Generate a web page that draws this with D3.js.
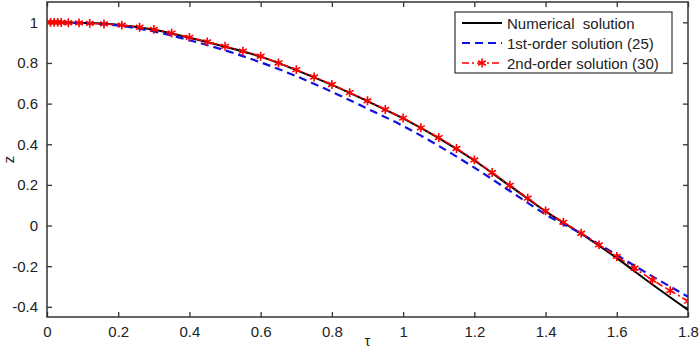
<!DOCTYPE html>
<html>
<head>
<meta charset="utf-8">
<script src="https://cdn.jsdelivr.net/npm/d3@7"></script>
<style>
  body { margin: 0; background: #fff; }
  svg { display: block; font-family: "Liberation Sans", Arial, sans-serif; }
</style>
</head>
<body>
<script>
// Data
const tauCoarse = [0, 0.1, 0.2, 0.3, 0.4, 0.5, 0.6, 0.7, 0.8, 0.9, 1.0, 1.1, 1.2, 1.3, 1.4, 1.5, 1.6, 1.7, 1.8];
const numerical = [1.0, 0.997, 0.988, 0.963, 0.924, 0.88, 0.831, 0.765, 0.692, 0.612, 0.527, 0.43, 0.32, 0.195, 0.07, -0.04, -0.16, -0.29, -0.415];
const firstOrder = [1.0, 0.996, 0.984, 0.955, 0.912, 0.862, 0.803, 0.735, 0.658, 0.575, 0.49, 0.392, 0.285, 0.17, 0.055, -0.04, -0.145, -0.25, -0.35];

const tauFine = [0, 0.01, 0.02, 0.03, 0.04, 0.06, 0.09, 0.12, 0.16, 0.21, 0.26, 0.3, 0.35, 0.4, 0.45, 0.5, 0.55, 0.6, 0.65, 0.7, 0.75, 0.8, 0.85, 0.9, 0.95, 1.0, 1.05, 1.1, 1.15, 1.2, 1.25, 1.3, 1.35, 1.4, 1.45, 1.5, 1.55, 1.6, 1.65, 1.7, 1.75, 1.8];
const secondOrder = [1.0, 1.0, 1.0, 1.0, 0.999, 0.998, 0.997, 0.995, 0.992, 0.986, 0.976, 0.965, 0.947, 0.926, 0.904, 0.882, 0.858, 0.833, 0.8, 0.767, 0.731, 0.694, 0.654, 0.614, 0.571, 0.529, 0.481, 0.433, 0.379, 0.323, 0.261, 0.198, 0.135, 0.072, 0.016, -0.038, -0.095, -0.152, -0.21, -0.268, -0.32, -0.372];

const xTicks = [0, 0.2, 0.4, 0.6, 0.8, 1, 1.2, 1.4, 1.6, 1.8];
const yTicks = [-0.4, -0.2, 0, 0.2, 0.4, 0.6, 0.8, 1];
const legendLabels = ["Numerical  solution", "1st-order solution (25)", "2nd-order solution (30)"];

// Dimensions
const width = 699;
const height = 354;
const marginTop = 2;
const marginRight = 11;
const marginBottom = 37;
const marginLeft = 47;

const x = d3.scaleLinear().domain([0, 1.8]).range([marginLeft, width - marginRight]);
const y = d3.scaleLinear().domain([-0.45, 1.1]).range([height - marginBottom, marginTop]);

const svg = d3.select("body").append("svg")
    .attr("width", width)
    .attr("height", height);

const fmt = d => d === 0 ? "0" : String(+d.toFixed(1));
const tickColor = "#333";

// AXES (ticks inside, on all four sides)
const gx = svg.append("g")
    .attr("transform", `translate(0,${height - marginBottom})`)
    .call(d3.axisBottom(x).tickValues(xTicks).tickFormat(fmt).tickSizeInner(-5).tickSizeOuter(0).tickPadding(9));
const gxTop = svg.append("g")
    .attr("transform", `translate(0,${marginTop})`)
    .call(d3.axisTop(x).tickValues(xTicks).tickFormat("").tickSizeInner(-5).tickSizeOuter(0));
const gy = svg.append("g")
    .attr("transform", `translate(${marginLeft},0)`)
    .call(d3.axisLeft(y).tickValues(yTicks).tickFormat(fmt).tickSizeInner(-5).tickSizeOuter(0).tickPadding(9));
const gyRight = svg.append("g")
    .attr("transform", `translate(${width - marginRight},0)`)
    .call(d3.axisRight(y).tickValues(yTicks).tickFormat("").tickSizeInner(-5).tickSizeOuter(0));

[gx, gxTop, gy, gyRight].forEach(g => {
    g.select(".domain").remove();
    g.selectAll(".tick line").attr("stroke", tickColor).attr("stroke-width", 1.3);
    g.selectAll("text").attr("font-size", 15).attr("fill", "#222").attr("font-family", "Liberation Sans, Arial, sans-serif");
});

// Frame
svg.append("rect")
    .attr("x", marginLeft)
    .attr("y", marginTop)
    .attr("width", width - marginRight - marginLeft)
    .attr("height", height - marginBottom - marginTop)
    .attr("fill", "none")
    .attr("stroke", tickColor)
    .attr("stroke-width", 1.5);

// Axis labels
svg.append("text")
    .attr("x", (marginLeft + width - marginRight) / 2)
    .attr("y", height - 8)
    .attr("text-anchor", "middle")
    .attr("font-size", 15)
    .attr("fill", "#222")
    .text("τ");
svg.append("text")
    .attr("transform", `translate(14,${(marginTop + height - marginBottom) / 2}) rotate(-90)`)
    .attr("text-anchor", "middle")
    .attr("font-size", 15)
    .attr("fill", "#222")
    .text("z");

// Lines
const line = d3.line().curve(d3.curveMonotoneX);
svg.append("clipPath").attr("id", "clip").append("rect")
    .attr("x", marginLeft).attr("y", marginTop)
    .attr("width", width - marginRight - marginLeft)
    .attr("height", height - marginBottom - marginTop);
const plot = svg.append("g").attr("clip-path", "url(#clip)");

plot.append("path")
    .attr("d", line(tauCoarse.map((t, i) => [x(t), y(numerical[i])])))
    .attr("fill", "none")
    .attr("stroke", "#000")
    .attr("stroke-width", 2);

plot.append("path")
    .attr("d", line(tauCoarse.map((t, i) => [x(t), y(firstOrder[i])])))
    .attr("fill", "none")
    .attr("stroke", "#1010e0")
    .attr("stroke-width", 2.2)
    .attr("stroke-dasharray", "8,5");

plot.append("path")
    .attr("d", line(tauFine.map((t, i) => [x(t), y(secondOrder[i])])))
    .attr("fill", "none")
    .attr("stroke", "#ff0000")
    .attr("stroke-width", 1.6)
    .attr("stroke-dasharray", "7,3,2,3");

const star = d3.symbol().type(d3.symbolAsterisk || d3.symbolCross).size(55);
plot.selectAll(".marker")
    .data(tauFine)
    .enter()
    .append("path")
    .attr("class", "marker")
    .attr("transform", (d, i) => `translate(${x(d)},${y(secondOrder[i])})`)
    .attr("d", star)
    .attr("fill", "none")
    .attr("stroke", "#ff0000")
    .attr("stroke-width", 1.6);

// LEGEND
const legend = svg.append("g");
legend.append("rect")
    .attr("x", 455).attr("y", 12)
    .attr("width", 217).attr("height", 61)
    .attr("fill", "#fff")
    .attr("stroke", tickColor)
    .attr("stroke-width", 1.2);

const legendStyles = [
    { stroke: "#000", dash: null, w: 2 },
    { stroke: "#1010e0", dash: "8,5", w: 2.2 },
    { stroke: "#ff0000", dash: "7,3,2,3", w: 1.6 }
];
legendLabels.forEach((label, i) => {
    const cy = 23 + i * 20;
    const s = legendStyles[i];
    legend.append("line")
        .attr("x1", 462).attr("x2", 502)
        .attr("y1", cy).attr("y2", cy)
        .attr("stroke", s.stroke)
        .attr("stroke-width", s.w)
        .attr("stroke-dasharray", s.dash);
    if (i === 2) {
        legend.append("path")
            .attr("transform", `translate(482,${cy})`)
            .attr("d", star)
            .attr("fill", "none")
            .attr("stroke", "#ff0000")
            .attr("stroke-width", 1.6);
    }
    legend.append("text")
        .attr("x", 507)
        .attr("y", cy + 5.5)
        .attr("font-size", 15)
        .attr("fill", "#222")
        .attr("xml:space", "preserve")
        .style("white-space", "pre")
        .text(label);
});
</script>
</body>
</html>
